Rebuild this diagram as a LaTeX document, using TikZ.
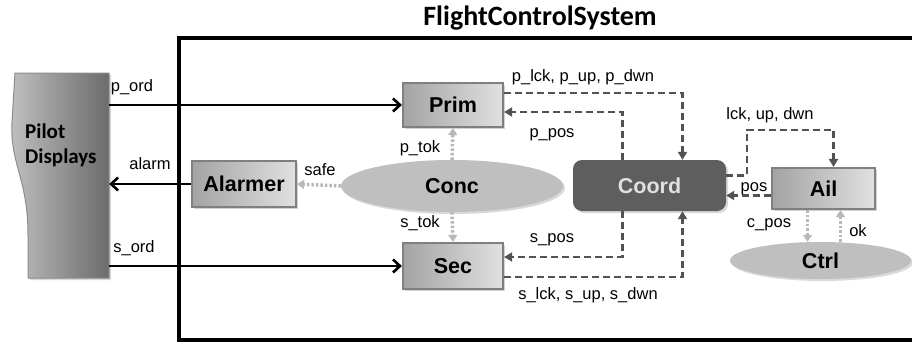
\documentclass[tikz,border=0pt]{standalone}
\usepackage{fontspec}
\setmainfont{Liberation Sans}
\newfontfamily\calfont{Carlito}
\usetikzlibrary{arrows.meta,shapes.geometric,shadows}

\begin{document}
\begin{tikzpicture}[x=1pt, y=-1pt,
    blk/.style = {rectangle, draw=black!50, line width=2.2pt,
      left color=black!36, right color=black!12,
      minimum width=100pt, minimum height=44pt, inner sep=0pt,
      font=\bfseries\fontsize{21.5}{24}\selectfont,
      drop shadow={opacity=.35, shadow xshift=2pt, shadow yshift=-2pt}},
    proc/.style = {ellipse, fill=black!25, inner sep=0pt,
      font=\bfseries\fontsize{21.5}{24}\selectfont,
      drop shadow={opacity=.3, shadow xshift=2pt, shadow yshift=-2pt}},
    coordbox/.style = {rectangle, rounded corners=9pt, fill=black!63,
      text=black!12, inner sep=0pt,
      font=\bfseries\fontsize{21.5}{24}\selectfont,
      drop shadow={opacity=.3, shadow xshift=2pt, shadow yshift=-2pt}},
    lbl/.style = {font=\fontsize{16.5}{19}\selectfont, inner sep=0pt},
    flow/.style = {line width=2.6pt, -{Straight Barb[length=7pt, width=13pt]}},
    ctl/.style = {draw=black!68, line width=2.8pt,
      dash pattern=on 7pt off 4pt, -{Triangle[length=8pt, width=9pt]}},
    tok/.style = {draw=black!28, line width=3.5pt,
      dash pattern=on 2.5pt off 2pt, -{Triangle[length=7pt, width=9pt]}}]

  \clip (0,0) rectangle (912,343);

  % system frame and title
  \draw[line width=3.2pt] (179,38) rectangle (930,340);
  \node[font=\calfont\bfseries\fontsize{28}{30}\selectfont, anchor=base]
    (title) at (540,25) {FlightControlSystem};

  % pilot displays
  \shade[left color=black!25, right color=black!58, draw=black!45, line width=1pt,
    drop shadow={opacity=.3, shadow xshift=2pt, shadow yshift=-2pt}]
    (15,73) -- (109,73) -- (109,278) -- (28,278) -- (28,235)
    .. controls (28,178) and (10,165) .. (12,122)
    .. controls (13,98) .. (15,73) -- cycle;
  \node[minimum width=94pt, minimum height=205pt, inner sep=0pt] (pilot) at (62,175.5) {};
  \node[font=\calfont\bfseries\fontsize{21}{25}\selectfont, align=left, anchor=west,
    inner sep=0pt] (pilottxt) at (25,145) {Pilot\\Displays};

  % components
  \node[blk] (prim) at (453,105) {Prim};
  \node[blk, minimum height=46pt] (sec) at (453,266) {Sec};
  \node[blk, minimum width=104pt, minimum height=46pt] (alarmer) at (244,184) {Alarmer};
  \node[blk, minimum width=103pt, minimum height=41pt] (ail) at (823.5,188.5) {Ail};
  \node[proc, minimum width=222pt, minimum height=52pt] (conc) at (452,186) {Conc};
  \node[proc, minimum width=181pt, minimum height=37pt] (ctrl) at (820.5,260.5) {Ctrl};
  \node[coordbox, minimum width=153pt, minimum height=51pt] (coord) at (649.5,185.5) {Coord};
  \coordinate (lkturn) at (747,130);

  % pilot orders and alarm
  \draw[flow] (pilot.east |- prim.west) -- (prim.west);
  \draw[flow] (alarmer.west) -- (alarmer.west -| pilot.east);
  \draw[flow] (pilot.east |- sec.west) -- (sec.west);

  % tokens
  \draw[tok] (conc.west) -- (alarmer.east);
  \draw[tok] (conc.north) -- (prim.south);
  \draw[tok] (conc.south) -- (sec.north);
  \draw[tok] ([xshift=-16pt]ail.south) -- ([xshift=-16pt]ail.south |- ctrl.north);
  \draw[tok] ([xshift=17pt]ail.south |- ctrl.north) -- ([xshift=17pt]ail.south);

  % commands to and from coord
  \draw[ctl] ([yshift=12pt]prim.east) -| ([xshift=33pt]coord.north);
  \draw[ctl] ([xshift=-27pt]coord.north) |- ([yshift=-7pt]prim.east);
  \draw[ctl] ([xshift=-27pt]coord.south) |- ([yshift=9pt]sec.east);
  \draw[ctl] ([yshift=-11pt]sec.east) -| ([xshift=33pt]coord.south);
  \draw[ctl] ([yshift=10pt]coord.east) -| (lkturn) -| ([xshift=10pt]ail.north);
  \draw[ctl] ([yshift=-7pt]ail.west) -- ([yshift=-7pt]ail.west -| coord.east);

  % labels
  \node[lbl] (l-pord) at (132,87) {p\_ord};
  \node[lbl] (l-alarm) at (150,164) {alarm};
  \node[lbl] (l-sord) at (134,248) {s\_ord};
  \node[lbl] (l-safe) at (320,170) {safe};
  \node[lbl] (l-ptok) at (420,148) {p\_tok};
  \node[lbl] (l-stok) at (420,223) {s\_tok};
  \node[lbl] (l-plck) at (583,77) {p\_lck, p\_up, p\_dwn};
  \node[lbl] (l-ppos) at (552,135) {p\_pos};
  \node[lbl] (l-spos) at (552,240) {s\_pos};
  \node[lbl] (l-slck) at (588,295) {s\_lck, s\_up, s\_dwn};
  \node[lbl] (l-lck) at (770,115) {lck, up, dwn};
  \node[lbl] (l-pos) at (754,189) {pos};
  \node[lbl] (l-cpos) at (769,225) {c\_pos};
  \node[lbl] (l-ok) at (858,231) {ok};
\end{tikzpicture}
\end{document}
